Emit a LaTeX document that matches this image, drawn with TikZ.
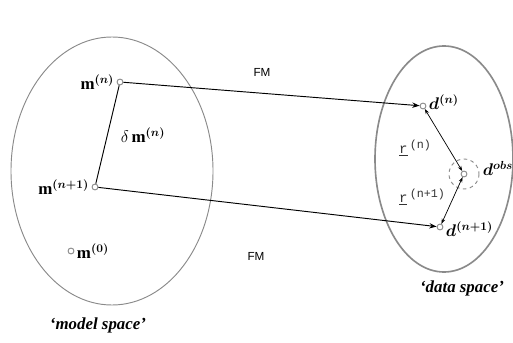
\documentclass[tikz,border=0pt]{standalone}
\usepackage{fontspec,bm}
\setmainfont{Liberation Serif}
\setsansfont{Liberation Sans}
\setmonofont{Liberation Mono}
\usetikzlibrary{positioning,arrows.meta}
\definecolor{rim}{HTML}{8A8A8A}

\begin{document}
\begin{tikzpicture}[x=0.03cm,y=-0.03cm,node distance=1pt,pt/.style={circle,draw=rim,fill=white,thick,inner sep=0pt,minimum size=5pt},lbl/.style={inner sep=1pt,font=\Large},flow/.style={-{Stealth[length=2.2mm,width=1.6mm]},draw=black,thick},resid/.style={{Stealth[length=1.6mm,width=1.1mm]}-{Stealth[length=1.6mm,width=1.1mm]},draw=black,semithick},resl/.style={font=\ttfamily\large,text=black!80,inner sep=0pt}]
\useasboundingbox (0,0) rectangle (513,343);
\draw[rim,thick] (112,171) ellipse [x radius=101,y radius=134];
\draw[rim,line width=1.4pt] (444,159) ellipse [x radius=69,y radius=113];
\node[pt] (mn) at (120,82) {};
\node[pt] (mn1) at (95,187) {};
\node[pt] (m0) at (71,251) {};
\node[pt] (dn) at (423,106) {};
\node[pt] (dobs) at (464,174) {};
\node[pt] (dn1) at (440,227) {};
\draw[rim,dashed,thick] (dobs) circle [radius=15];
\node[lbl,left=of mn] (mnlbl) {$\mathbf{m}^{\bm{(n)}}$};
\node[lbl,left=of mn1] (mn1lbl) {$\mathbf{m}^{\bm{(n+1)}}$};
\node[lbl,right=of m0] (m0lbl) {$\mathbf{m}^{\bm{(0)}}$};
\node[lbl,right=1pt of dn,yshift=3pt] (dnlbl) {$\bm{d}^{\bm{(n)}}$};
\node[lbl,right=12pt of dobs,yshift=5pt] (dobslbl) {$\bm{d}^{\bm{obs}}$};
\node[lbl,right=1pt of dn1,yshift=-2pt] (dn1lbl) {$\bm{d}^{\bm{(n+1)}}$};
\node[lbl] (dm) at (143,135) {$\delta\,\mathbf{m}^{\bm{(n)}}$};
\node[font=\sffamily] (fmtop) at (262,72) {FM};
\node[font=\sffamily] (fmbot) at (256,256) {FM};
\node[resl] (rn) at (415,148) {\underline{r}\,\raisebox{4pt}{\normalsize(n)}};
\node[resl] (rn1) at (422,197) {\underline{r}\,\raisebox{4pt}{\normalsize(n+1)}};
\node[font=\bfseries\itshape\Large] (model) at (98,325) {‘model space’};
\node[font=\bfseries\itshape\Large] (data) at (462,288) {‘data space’};
\draw[thick] (mn)--(mn1);
\draw[flow] (mn)--(dn);
\draw[flow] (mn1)--(dn1);
\draw[resid] (dn)--(dobs);
\draw[resid] (dobs)--(dn1);
\end{tikzpicture}
\end{document}
